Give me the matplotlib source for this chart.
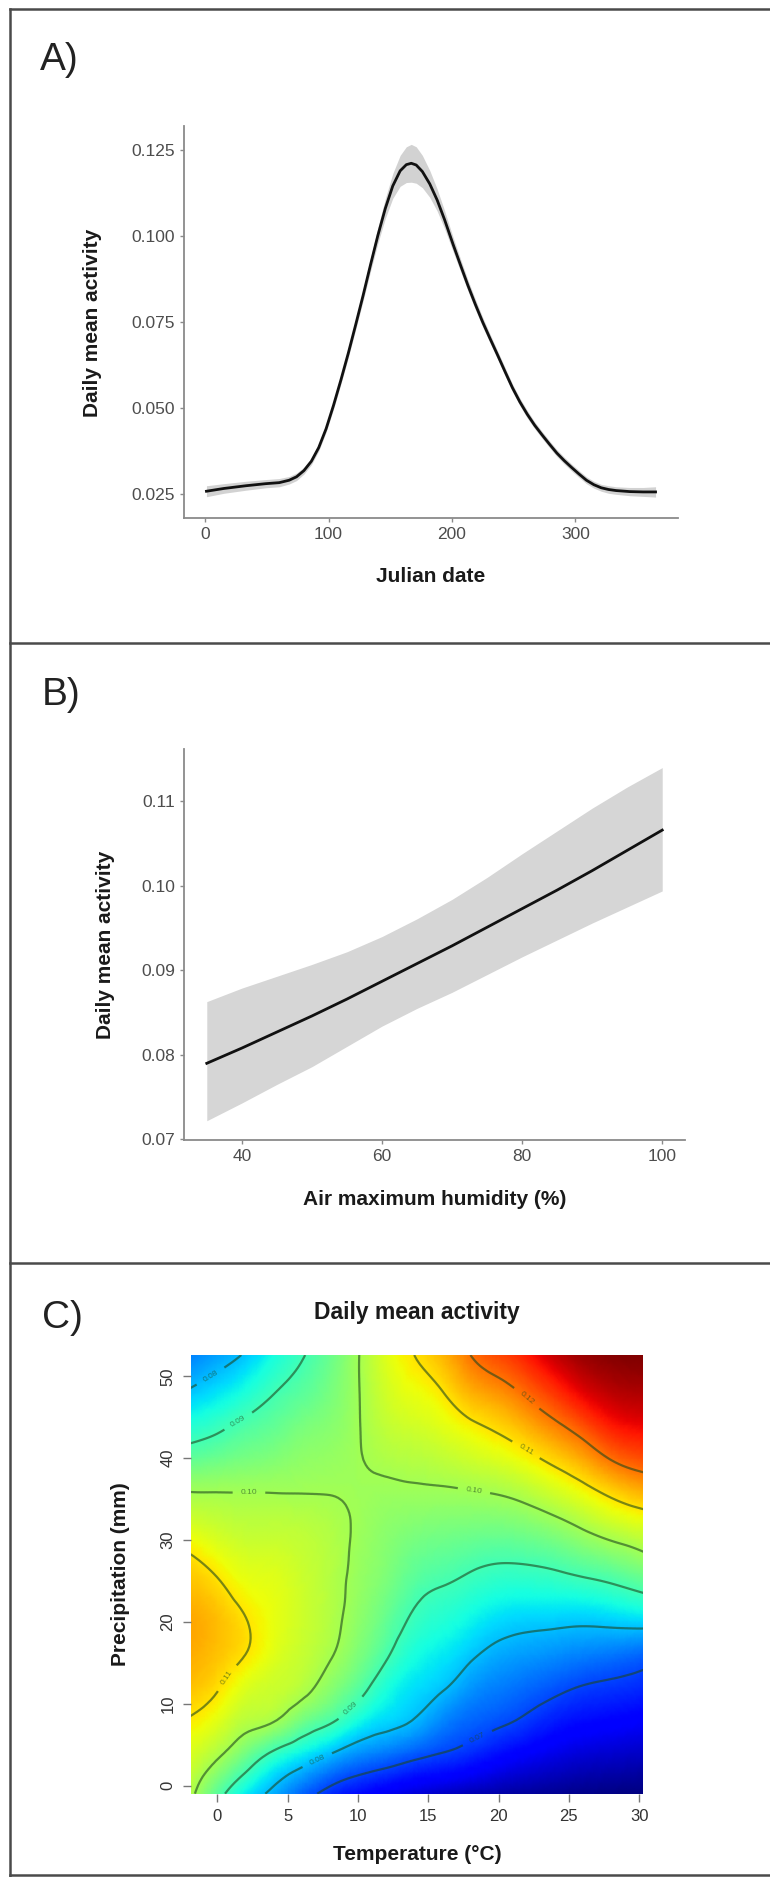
import numpy as np
import matplotlib
matplotlib.use("Agg")
import matplotlib.pyplot as plt
import matplotlib.tri as mtri
from matplotlib.lines import Line2D

plt.rcParams['font.family'] = ['Liberation Sans', 'DejaVu Sans']

# ---------------- data: panel A (Julian date) ----------------
julian_day = [1, 15, 33, 49, 60, 68, 74, 80, 86, 92, 98, 104, 110, 116, 122, 128, 134,
              140, 146, 152, 158, 163, 167, 171, 176, 182, 188, 194, 201, 207, 213, 219,
              225, 231, 237, 243, 249, 255, 261, 267, 273, 279, 285, 291, 297, 303, 309,
              315, 321, 327, 333, 344, 355, 365]
act_mean = [0.0258, 0.0266, 0.0274, 0.0280, 0.0283, 0.0290, 0.0300, 0.0318, 0.0345, 0.0385,
            0.0440, 0.0508, 0.0582, 0.0660, 0.0743, 0.0828, 0.0917, 0.1003, 0.1081, 0.1146,
            0.1190, 0.1208, 0.1212, 0.1207, 0.1188, 0.1152, 0.1105, 0.1048, 0.0975, 0.0915,
            0.0856, 0.0801, 0.0749, 0.0701, 0.0654, 0.0606, 0.0559, 0.0518, 0.0482, 0.0450,
            0.0422, 0.0395, 0.0369, 0.0347, 0.0327, 0.0308, 0.0290, 0.0277, 0.0268, 0.0263,
            0.0260, 0.0257, 0.0256, 0.0256]
act_ci_halfwidth = [0.0016, 0.0014, 0.0013, 0.0012, 0.0012, 0.0011, 0.0011, 0.0010, 0.0010,
                    0.0010, 0.0010, 0.0011, 0.0012, 0.0013, 0.0014, 0.0016, 0.0019, 0.0023,
                    0.0029, 0.0036, 0.0045, 0.0052, 0.0055, 0.0053, 0.0047, 0.0039, 0.0032,
                    0.0026, 0.0021, 0.0018, 0.0016, 0.0015, 0.0014, 0.0013, 0.0012, 0.0012,
                    0.0011, 0.0011, 0.0011, 0.0010, 0.0010, 0.0010, 0.0010, 0.0010, 0.0010,
                    0.0010, 0.0010, 0.0010, 0.0010, 0.0011, 0.0011, 0.0012, 0.0013, 0.0015]
a_xticks = [0, 100, 200, 300]
a_yticks = [0.025, 0.050, 0.075, 0.100, 0.125]
a_yticklabels = ['0.025', '0.050', '0.075', '0.100', '0.125']

# ---------------- data: panel B (humidity) ----------------
humidity = [35, 40, 45, 50, 55, 60, 65, 70, 75, 80, 85, 90, 95, 100]
hum_mean = [0.0790, 0.0808, 0.0827, 0.0846, 0.0866, 0.0887, 0.0908, 0.0929, 0.0951, 0.0973,
            0.0995, 0.1018, 0.1042, 0.1066]
hum_upper = [0.0863, 0.0879, 0.0893, 0.0907, 0.0922, 0.0940, 0.0961, 0.0984, 0.1010, 0.1038,
             0.1065, 0.1092, 0.1117, 0.1140]
hum_lower = [0.0722, 0.0743, 0.0765, 0.0786, 0.0810, 0.0834, 0.0855, 0.0874, 0.0895, 0.0916,
             0.0936, 0.0956, 0.0975, 0.0994]
b_xticks = [40, 60, 80, 100]
b_yticks = [0.07, 0.08, 0.09, 0.10, 0.11]
b_yticklabels = ['0.07', '0.08', '0.09', '0.10', '0.11']

# ---------------- data: panel C (temperature x precipitation surface) ----------------
temp_grid = [-1.9, 0, 2, 4, 6, 8, 10, 12, 14, 16, 18, 20, 22, 24, 26, 28, 30.3]
precip_grid = [-1, 4, 8, 12, 16, 20, 24, 28, 32, 36, 40, 44, 48, 52.6]
activity_surface = [
    [0.1015, 0.0925, 0.0840, 0.0785, 0.0728, 0.0680, 0.0650, 0.0625, 0.0605, 0.0590, 0.0578, 0.0568, 0.0560, 0.0553, 0.0547, 0.0542, 0.0538],
    [0.1055, 0.1013, 0.0953, 0.0892, 0.0847, 0.0805, 0.0767, 0.0745, 0.0721, 0.0700, 0.0680, 0.0655, 0.0635, 0.0618, 0.0605, 0.0598, 0.0590],
    [0.1095, 0.1065, 0.1023, 0.1005, 0.0953, 0.0912, 0.0858, 0.0823, 0.0798, 0.0757, 0.0729, 0.0712, 0.0691, 0.0667, 0.0652, 0.0644, 0.0634],
    [0.1130, 0.1105, 0.1060, 0.1040, 0.1018, 0.0975, 0.0925, 0.0864, 0.0829, 0.0806, 0.0769, 0.0748, 0.0732, 0.0714, 0.0697, 0.0688, 0.0677],
    [0.1150, 0.1130, 0.1100, 0.1062, 0.1035, 0.1005, 0.0962, 0.0908, 0.0859, 0.0837, 0.0809, 0.0784, 0.0772, 0.0762, 0.0751, 0.0742, 0.0728],
    [0.1155, 0.1135, 0.1103, 0.1070, 0.1042, 0.1015, 0.0978, 0.0935, 0.0889, 0.0867, 0.0845, 0.0823, 0.0814, 0.0811, 0.0808, 0.0813, 0.0820],
    [0.1135, 0.1112, 0.1078, 0.1065, 0.1042, 0.1018, 0.0986, 0.0955, 0.0916, 0.0897, 0.0881, 0.0866, 0.0863, 0.0867, 0.0874, 0.0887, 0.0910],
    [0.1103, 0.1075, 0.1052, 0.1048, 0.1035, 0.1018, 0.0991, 0.0968, 0.0942, 0.0930, 0.0918, 0.0910, 0.0913, 0.0924, 0.0944, 0.0963, 0.0990],
    [0.1050, 0.1035, 0.1025, 0.1025, 0.1022, 0.1012, 0.0995, 0.0978, 0.0968, 0.0962, 0.0959, 0.0958, 0.0967, 0.0985, 0.1012, 0.1040, 0.1063],
    [0.0998, 0.0998, 0.0998, 0.0998, 0.0998, 0.0998, 0.0995, 0.0992, 0.0994, 0.0995, 0.0999, 0.1006, 0.1023, 0.1050, 0.1081, 0.1117, 0.1150],
    [0.0930, 0.0941, 0.0954, 0.0964, 0.0978, 0.0985, 0.0997, 0.1012, 0.1019, 0.1029, 0.1044, 0.1060, 0.1085, 0.1118, 0.1156, 0.1205, 0.1235],
    [0.0867, 0.0887, 0.0912, 0.0932, 0.0955, 0.0970, 0.0997, 0.1030, 0.1046, 0.1064, 0.1090, 0.1114, 0.1148, 0.1188, 0.1233, 0.1280, 0.1300],
    [0.0808, 0.0832, 0.0862, 0.0898, 0.0925, 0.0955, 0.0997, 0.1045, 0.1072, 0.1098, 0.1144, 0.1172, 0.1211, 0.1258, 0.1305, 0.1335, 0.1345],
    [0.0750, 0.0775, 0.0806, 0.0855, 0.0895, 0.0940, 0.0997, 0.1060, 0.1100, 0.1140, 0.1200, 0.1240, 0.1280, 0.1330, 0.1360, 0.1375, 0.1380],
]
contour_levels = [0.07, 0.08, 0.09, 0.10, 0.11, 0.12]
c_xticks = [0, 5, 10, 15, 20, 25, 30]
c_yticks = [0, 10, 20, 30, 40, 50]

# ---------------- figure ----------------
W, H = 770, 1877
fig = plt.figure(figsize=(W / 100, H / 100), dpi=100)


def rect(l, t, r, b):
    return [l / W, 1 - b / H, (r - l) / W, (b - t) / H]


def ftext(x, y, s, **kw):
    fig.text(x / W, 1 - y / H, s, **kw)


# panel frames
frame_col = '#4a4a4a'
for (x0, y0, x1, y1) in [(10, 9, 770, 9), (10, 9, 10, 1877), (10, 643, 770, 643),
                         (10, 1263, 770, 1263), (10, 1875, 770, 1875)]:
    fig.add_artist(Line2D([x0 / W, x1 / W], [1 - y0 / H, 1 - y1 / H],
                          color=frame_col, lw=1.8))

axis_grey = '#8a8a8a'
tick_txt = '#4d4d4d'
title_col = '#1a1a1a'


def gg_style(ax):
    for s in ['top', 'right']:
        ax.spines[s].set_visible(False)
    for s in ['left', 'bottom']:
        ax.spines[s].set_color(axis_grey)
        ax.spines[s].set_linewidth(1.3)
    ax.tick_params(axis='both', color=axis_grey, length=3, width=1,
                   labelsize=12.5, labelcolor=tick_txt, pad=3.5)


# ---------- Panel A ----------
axA = fig.add_axes(rect(184, 126.5, 678, 518.4))
a_mean = np.array(act_mean)
a_hw = np.array(act_ci_halfwidth)
axA.fill_between(julian_day, a_mean - a_hw, a_mean + a_hw, color='#d2d2d2', lw=0)
axA.plot(julian_day, act_mean, color='#111111', lw=2.0)
axA.set_xlim(-17.2, 383.2)
axA.set_ylim(0.0179, 0.1319)
axA.set_xticks(a_xticks)
axA.set_yticks(a_yticks)
axA.set_yticklabels(a_yticklabels)
gg_style(axA)
ftext(40, 60, 'A)', fontsize=28, color='#222222', va='center', ha='left')
ftext(431, 577, 'Julian date', fontsize=15, fontweight='bold', color=title_col,
      ha='center', va='center')
ftext(93, 322.4, 'Daily mean activity', fontsize=15, fontweight='bold', color=title_col,
      ha='center', va='center', rotation=90)

# ---------- Panel B ----------
axB = fig.add_axes(rect(184, 749, 685, 1140.2))
axB.fill_between(humidity, hum_lower, hum_upper, color='#d6d6d6', lw=0)
axB.plot(humidity, hum_mean, color='#111111', lw=2.0)
axB.set_xlim(31.75, 103.25)
axB.set_ylim(0.0699, 0.1162)
axB.set_xticks(b_xticks)
axB.set_yticks(b_yticks)
axB.set_yticklabels(b_yticklabels)
gg_style(axB)
ftext(42, 695, 'B)', fontsize=28, color='#222222', va='center', ha='left')
ftext(434.5, 1199.5, 'Air maximum humidity (%)', fontsize=15, fontweight='bold',
      color=title_col, ha='center', va='center')
ftext(106, 944.6, 'Daily mean activity', fontsize=15, fontweight='bold', color=title_col,
      ha='center', va='center', rotation=90)

# ---------- Panel C ----------
axC = fig.add_axes(rect(190.6, 1355, 643.4, 1793.7))
Z = np.array(activity_surface)
TT, PP = np.meshgrid(temp_grid, precip_grid)
triang = mtri.Triangulation(TT.ravel(), PP.ravel())
refiner = mtri.UniformTriRefiner(triang)
tri_f, z_f = refiner.refine_field(Z.ravel(), subdiv=3)
axC.tripcolor(tri_f, z_f, cmap='jet', shading='gouraud',
              vmin=Z.min(), vmax=Z.max())
cs = axC.tricontour(tri_f, z_f, levels=contour_levels,
                    colors=[(0.12, 0.28, 0.12)], alpha=0.6, linewidths=1.6)
axC.clabel(cs, fmt='%.2f', fontsize=6, inline=True, inline_spacing=8)
axC.set_xlim(-1.9, 30.3)
axC.set_ylim(-1.0, 52.6)
for s in axC.spines.values():
    s.set_visible(False)
axC.set_xticks(c_xticks)
axC.set_yticks(c_yticks)
axC.set_yticklabels([str(v) for v in c_yticks], rotation=90, va='center')
axC.tick_params(axis='both', color='#777777', length=5.5, width=1,
                labelsize=12, labelcolor='#333333', pad=5.5)
ftext(42, 1318, 'C)', fontsize=28, color='#222222', va='center', ha='left')
ftext(417, 1313, 'Daily mean activity', fontsize=16.5, fontweight='bold',
      color=title_col, ha='center', va='center')
ftext(417, 1854, 'Temperature (°C)', fontsize=15, fontweight='bold', color=title_col,
      ha='center', va='center')
ftext(120, 1574, 'Precipitation (mm)', fontsize=15, fontweight='bold', color=title_col,
      ha='center', va='center', rotation=90)

fig.savefig('out.png', dpi=100)
